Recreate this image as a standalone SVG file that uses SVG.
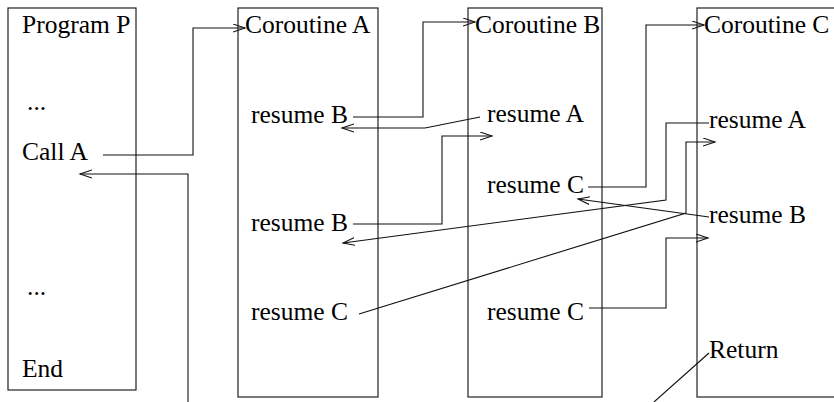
<svg xmlns="http://www.w3.org/2000/svg" width="834" height="402" viewBox="0 0 834 402">
<style>
.box{fill:none;stroke:#222;stroke-width:1.2}
.t{font-family:"Liberation Serif","Times New Roman",serif;font-size:25.5px;fill:#000}
.c{fill:none;stroke:#111;stroke-width:1.1}
</style>
<defs>
<marker id="ah" markerUnits="userSpaceOnUse" markerWidth="14" markerHeight="10" refX="12" refY="4.5" orient="auto">
<path d="M0,0.5 L12,4.5 L0,8.5" fill="none" stroke="#111" stroke-width="1.1"/>
</marker>
</defs>
<rect width="834" height="402" fill="#fff"/>
<g id="programP">
<rect class="box" x="8" y="8" width="128" height="382"/>
<text class="t" x="22" y="33">Program P</text>
<text class="t" x="27" y="110">...</text>
<text class="t" x="22" y="160">Call A</text>
<text class="t" x="27" y="295">...</text>
<text class="t" x="22" y="377">End</text>
</g>
<g id="coroutineA">
<rect class="box" x="238" y="8" width="140" height="389"/>
<text class="t" x="245" y="33">Coroutine A</text>
<text class="t" x="251" y="123">resume B</text>
<text class="t" x="251" y="231">resume B</text>
<text class="t" x="251" y="320">resume C</text>
</g>
<g id="coroutineB">
<rect class="box" x="468" y="8" width="134" height="389"/>
<text class="t" x="475" y="33">Coroutine B</text>
<text class="t" x="487" y="122">resume A</text>
<text class="t" x="487" y="193">resume C</text>
<text class="t" x="487" y="320">resume C</text>
</g>
<g id="coroutineC">
<rect class="box" x="697" y="8" width="150" height="389"/>
<text class="t" x="704" y="33">Coroutine C</text>
<text class="t" x="709" y="128">resume A</text>
<text class="t" x="709" y="223">resume B</text>
<text class="t" x="709" y="358">Return</text>
</g>
<g id="connectors">
<polyline class="c" points="103,155 193,155 193,28 245,28" marker-end="url(#ah)"/>
<polyline class="c" points="188,402 188,174 80,174" marker-end="url(#ah)"/>
<line class="c" x1="709" y1="353" x2="654" y2="402"/>
<polyline class="c" points="353,117 423,117 423,22 475,22" marker-end="url(#ah)"/>
<polyline class="c" points="480,117 425,128 342,128" marker-end="url(#ah)"/>
<polyline class="c" points="353,224 442,224 442,136 492,136" marker-end="url(#ah)"/>
<polyline class="c" points="588,187 646,187 646,25 704,25" marker-end="url(#ah)"/>
<polyline class="c" points="709,123 666,123 666,200 343,243" marker-end="url(#ah)"/>
<polyline class="c" points="359,314 686,213 686,142 715,142" marker-end="url(#ah)"/>
<line class="c" x1="709" y1="217" x2="578" y2="199" marker-end="url(#ah)"/>
<polyline class="c" points="589,308 666,308 666,238 708,238" marker-end="url(#ah)"/>
</g>
</svg>
